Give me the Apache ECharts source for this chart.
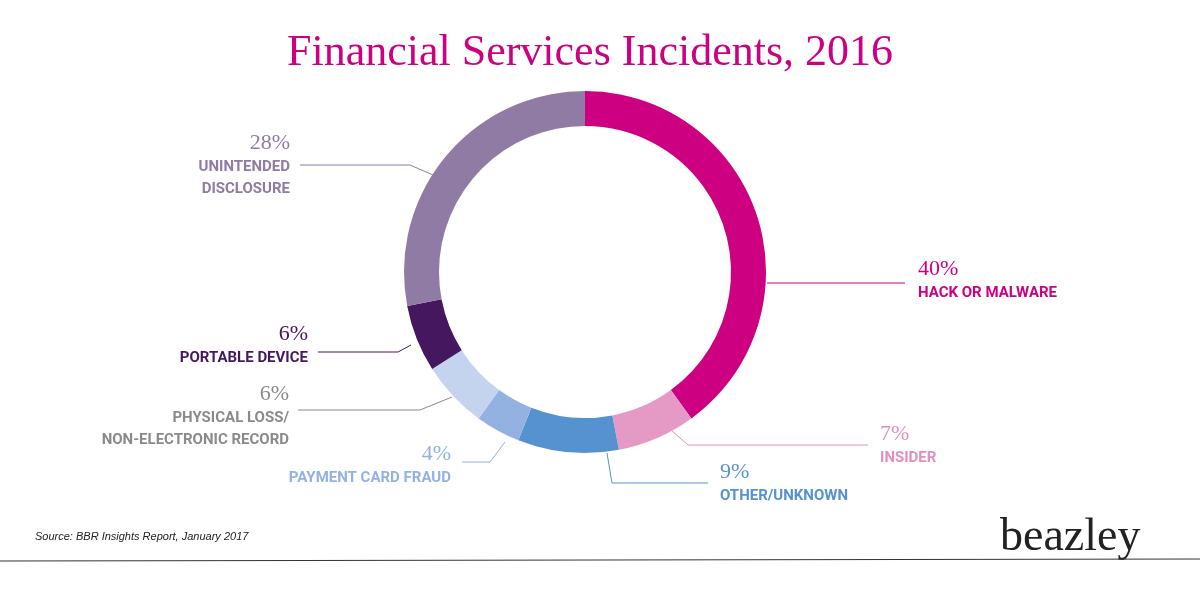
<!DOCTYPE html>
<html>
<head>
<meta charset="utf-8">
<script src="https://cdn.jsdelivr.net/npm/echarts@6/dist/echarts.min.js"></script>
<style>html,body{margin:0;padding:0;background:#fff}#chart{width:1200px;height:601px}</style>
</head>
<body>
<div id="chart"></div>
<script>
// slices in clockwise order from 12 o'clock
const categories = ['HACK OR MALWARE', 'INSIDER', 'OTHER/UNKNOWN', 'PAYMENT CARD FRAUD',
    'PHYSICAL LOSS/\nNON-ELECTRONIC RECORD', 'PORTABLE DEVICE', 'UNINTENDED\nDISCLOSURE'];
const values = [40, 7, 9, 4, 6, 6, 28];
const sliceColors = ['#cc0080', '#e49ac4', '#5592cf', '#93b2e1', '#c5d4ee', '#45175e', '#8f7ba3'];
const textColors = ['#cc0080', '#e08fbf', '#5592cf', '#93b2e1', '#8a8a8a', '#45175e', '#8f7ba3'];

// label anchors and leader lines
const labelPos = [
    {x: 918, y: 256, align: 'left'},
    {x: 880, y: 421, align: 'left'},
    {x: 720, y: 459, align: 'left'},
    {x: 451, y: 441, align: 'right'},
    {x: 289, y: 381, align: 'right'},
    {x: 308, y: 321, align: 'right'},
    {x: 290, y: 130, align: 'right'}
];
const linePts = [
    [[767, 283], [767, 283], [905, 283]],
    [[672, 431], [688, 445], [868, 445]],
    [[607, 453], [612, 483], [708, 483]],
    [[505, 442], [490, 462], [462, 462]],
    [[452, 397], [420, 410], [298, 410]],
    [[411, 345], [398, 352], [318, 352]],
    [[433, 175], [410, 165], [300, 165]]
];

const chart = echarts.init(document.getElementById('chart'));
chart.setOption({
    title: {
        text: 'Financial Services Incidents, 2016',
        left: 585, top: 26, textAlign: 'center',
        textStyle: {fontFamily: 'Liberation Serif', fontWeight: 'normal', fontSize: 44, color: '#cc0080'}
    },
    graphic: [
        {type: 'text', left: 35, top: 531,
            style: {text: 'Source: BBR Insights Report, January 2017', font: 'italic 11px Liberation Sans', fill: '#222'}},
        {type: 'text', left: 1000, top: 515,
            style: {text: 'beazley', font: '46px Liberation Serif', fill: '#222'}},
        {type: 'line', shape: {x1: 0, y1: 561, x2: 1200, y2: 559}, style: {stroke: '#333', lineWidth: 1}}
    ],
    series: [{
        type: 'pie',
        center: [585, 272],
        radius: [146, 181],
        startAngle: 90,
        clockwise: true,
        silent: true,
        data: values.map((v, i) => ({
            value: v,
            name: categories[i],
            itemStyle: {color: sliceColors[i]},
            label: {
                formatter: '{p|' + v + '%}\n' + categories[i].split('\n').map(s => '{n|' + s + '}').join('\n'),
                rich: {
                    p: {fontFamily: 'Liberation Serif', fontSize: 22, lineHeight: 26, color: i === 4 ? '#8a8a8a' : textColors[i], align: labelPos[i].align},
                    n: {fontFamily: 'Roboto', fontWeight: 'bold', fontSize: 15, lineHeight: 22, color: textColors[i], align: labelPos[i].align}
                }
            },
            labelLine: {lineStyle: {color: textColors[i], width: 1}}
        })),
        label: {show: true, position: 'outside'},
        labelLine: {show: true},
        labelLayout: function (params) {
            const p = labelPos[params.dataIndex];
            return {x: p.x, y: p.y, align: p.align, verticalAlign: 'top', labelLinePoints: linePts[params.dataIndex]};
        }
    }]
});
</script>
</body>
</html>
